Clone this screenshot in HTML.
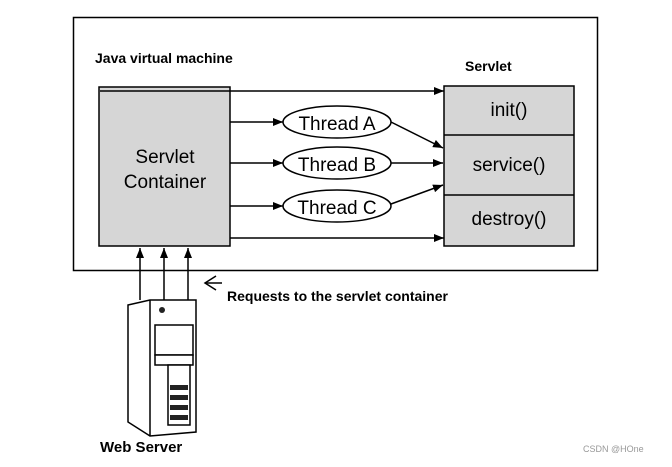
<!DOCTYPE html>
<html><head><meta charset="utf-8"><style>
body{margin:0;background:#fff;width:672px;height:462px;overflow:hidden}
svg text{font-family:"Liberation Sans",Arial,sans-serif}
</style></head><body>
<svg width="672" height="462" viewBox="0 0 672 462">
<defs><marker id="a" markerWidth="10" markerHeight="8" refX="10" refY="4" orient="auto" markerUnits="userSpaceOnUse"><path d="M0,0 L10,4 L0,8 Z" fill="#000"/></marker></defs>
<rect x="73.5" y="17.5" width="524" height="253" fill="#fff" stroke="#000" stroke-width="1.5"/>
<text x="95" y="63" font-size="14" font-weight="bold">Java virtual machine</text>
<text x="465" y="71" font-size="14" font-weight="bold">Servlet</text>
<rect x="99" y="87" width="131" height="159" fill="#d6d6d6" stroke="#000" stroke-width="1.5"/>
<text x="165" y="163" font-size="19" text-anchor="middle">Servlet</text>
<text x="165" y="188" font-size="19" text-anchor="middle">Container</text>
<rect x="444" y="86" width="130" height="160" fill="#d6d6d6" stroke="#000" stroke-width="1.5"/>
<line x1="444" y1="135" x2="574" y2="135" stroke="#000" stroke-width="1.5"/>
<line x1="444" y1="195" x2="574" y2="195" stroke="#000" stroke-width="1.5"/>
<text x="509" y="116" font-size="19" text-anchor="middle">init()</text>
<text x="509" y="171" font-size="19" text-anchor="middle">service()</text>
<text x="509" y="225" font-size="19" text-anchor="middle">destroy()</text>
<g stroke="#000" stroke-width="1.5" fill="none">
<line x1="100" y1="91" x2="444" y2="91" marker-end="url(#a)"/>
<line x1="230" y1="238" x2="444" y2="238" marker-end="url(#a)"/>
<line x1="230" y1="122" x2="283" y2="122" marker-end="url(#a)"/>
<line x1="230" y1="163" x2="283" y2="163" marker-end="url(#a)"/>
<line x1="230" y1="206" x2="283" y2="206" marker-end="url(#a)"/>
<line x1="391" y1="122" x2="443" y2="148" marker-end="url(#a)"/>
<line x1="391" y1="163" x2="443" y2="163" marker-end="url(#a)"/>
<line x1="391" y1="204" x2="443" y2="185" marker-end="url(#a)"/>
<ellipse cx="337" cy="122" rx="54" ry="16" fill="#fff"/>
<ellipse cx="337" cy="163" rx="54" ry="16" fill="#fff"/>
<ellipse cx="337" cy="206" rx="54" ry="16" fill="#fff"/>
<line x1="140" y1="300" x2="140" y2="248" marker-end="url(#a)"/>
<line x1="164" y1="300" x2="164" y2="248" marker-end="url(#a)"/>
<line x1="188" y1="300" x2="188" y2="248" marker-end="url(#a)"/>
<line x1="222" y1="283" x2="205" y2="283"/>
<polyline points="216,276 205,283 216,290"/>
</g>
<text x="337" y="130" font-size="19" text-anchor="middle">Thread A</text>
<text x="337" y="171" font-size="19" text-anchor="middle">Thread B</text>
<text x="337" y="214" font-size="19" text-anchor="middle">Thread C</text>
<text x="227" y="301" font-size="14" font-weight="bold">Requests to the servlet container</text>
<g stroke="#000" stroke-width="1.5" fill="#fff">
<path d="M128,305 L150,300 L196,300 L196,432 L150,436 L128,422 Z"/>
<line x1="150" y1="300" x2="150" y2="436"/>
<rect x="155" y="325" width="38" height="30"/>
<rect x="155" y="355" width="38" height="10"/>
<rect x="168" y="365" width="22" height="60"/>
</g>
<g fill="#222"><rect x="170" y="385" width="18" height="5"/><rect x="170" y="395" width="18" height="5"/><rect x="170" y="405" width="18" height="5"/><rect x="170" y="415" width="18" height="5"/><circle cx="162" cy="310" r="3"/></g>
<text x="100" y="452" font-size="15" font-weight="bold">Web Server</text>
<text x="583" y="452" font-size="9" fill="#999">CSDN @HOne</text>
</svg>
</body></html>
